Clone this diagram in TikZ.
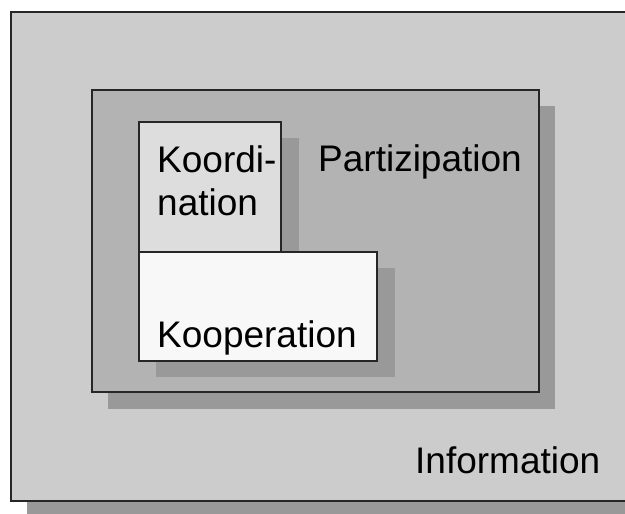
\documentclass[tikz,border=0pt]{standalone}
\usepackage{fontspec}
\setmainfont{Liberation Sans}
\begin{document}
\begin{tikzpicture}[x=1pt,y=-1pt,
  box/.style={draw=black!85,line width=1.6pt,inner sep=0pt,outer sep=0pt},
  shade/.style={fill=shadowgray,draw=none},
  lbl/.style={anchor=base west,inner sep=0pt,font=\fontsize{37}{43}\selectfont}]
\definecolor{shadowgray}{HTML}{999999}
\definecolor{outergray}{HTML}{CCCCCC}
\definecolor{midgray}{HTML}{B3B3B3}
\definecolor{koordgray}{HTML}{DDDDDD}
\definecolor{koopwhite}{HTML}{F8F8F8}
\useasboundingbox (0,0) rectangle (625,514);
\fill[white] (0,0) rectangle (625,514);
\begin{scope}
\clip (0,0) rectangle (625,514);
% outer: Information
\fill[shade] (27,28) rectangle (660,530);
\draw[box,fill=outergray] (11,12) rectangle (650,501);
% middle: Partizipation
\fill[shade] (108,106) rectangle (555,409);
\draw[box,fill=midgray] (92,90) rectangle (539,392);
% shadows of inner boxes
\fill[shade] (156,138) rectangle (299,268);
\fill[shade] (156,268) rectangle (395,377);
% Koordination
\draw[box,fill=koordgray] (139,122) rectangle (281,252);
% Kooperation
\draw[box,fill=koopwhite] (139,252) rectangle (377,361);
\end{scope}
\node[lbl] (info) at (415,473) {Information};
\node[lbl] (part) at (318,171) {Partizipation};
\node[lbl] (koord1) at (157,172) {Koordi-};
\node[lbl] (koord2) at (157,215) {nation};
\node[lbl] (koop) at (157,347) {Kooperation};
\end{tikzpicture}
\end{document}
